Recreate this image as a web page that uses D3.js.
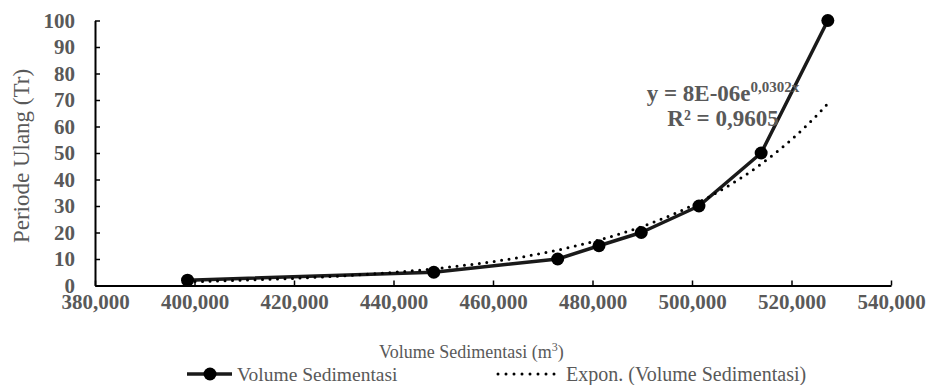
<!DOCTYPE html>
<html>
<head>
<meta charset="utf-8">
<script src="https://cdn.jsdelivr.net/npm/d3@7"></script>
<style>
  html, body { margin: 0; padding: 0; background: #fff; }
  svg { display: block; font-family: "Liberation Serif", "Times New Roman", serif; }
</style>
</head>
<body>
<svg id="chart" width="928" height="385"></svg>
<script>
// Sediment volume (m3) against return period (years)
const volumes = [398600, 448100, 473000, 481300, 489800, 501400, 513900, 527300];
const periods = [2, 5, 10, 15, 20, 30, 50, 100];
const xTicks = [380000, 400000, 420000, 440000, 460000, 480000, 500000, 520000, 540000];
const yTicks = [0, 10, 20, 30, 40, 50, 60, 70, 80, 90, 100];
const seriesName = "Volume Sedimentasi";
const trendName = "Expon. (Volume Sedimentasi)";
const equationText = ["y = 8E-06e", "0,0302x"];
const r2Text = "R² = 0,9605";

const textColor = "#595959";
const ink = "#000";

const svg = d3.select("#chart");
const plot = { left: 95, right: 891, top: 20.5, bottom: 285.5 };

const x = d3.scaleLinear().domain([380000, 540000]).range([plot.left, plot.right]);
const y = d3.scaleLinear().domain([0, 100]).range([plot.bottom, plot.top]);

// Axes with inward ticks
const gx = svg.append("g")
  .attr("transform", `translate(0,${plot.bottom})`)
  .call(d3.axisBottom(x).tickValues(xTicks).tickFormat(d3.format(",")).tickSize(-5).tickSizeOuter(0).tickPadding(9));
const gy = svg.append("g")
  .attr("transform", `translate(${plot.left},0)`)
  .call(d3.axisLeft(y).tickValues(yTicks).tickSize(-5).tickSizeOuter(0).tickPadding(20));

[gx, gy].forEach(g => {
  g.select(".domain").attr("stroke", ink).attr("stroke-width", 2);
  g.selectAll(".tick line").attr("stroke", ink).attr("stroke-width", 1.5);
  g.selectAll(".tick text")
    .attr("fill", textColor)
    .style("font-family", '"Liberation Serif", serif')
    .style("font-size", "21px")
    .style("font-weight", "bold");
});

// Exponential least-squares fit on ln(y)
const lnY = periods.map(Math.log);
const mx = d3.mean(volumes), my = d3.mean(lnY);
const sxy = d3.sum(volumes, (v, i) => (v - mx) * (lnY[i] - my));
const sxx = d3.sum(volumes, v => (v - mx) * (v - mx));
const b = sxy / sxx;
const lnA = my - b * mx;
const [xMin, xMax] = d3.extent(volumes);
const trendPts = d3.range(0, 101).map(k => {
  const v = xMin + (xMax - xMin) * k / 100;
  return [v, Math.exp(lnA + b * v)];
});

const line = d3.line().x(d => x(d[0])).y(d => y(d[1]));

// Data series line
svg.append("path")
  .datum(volumes.map((v, i) => [v, periods[i]]))
  .attr("d", line)
  .attr("fill", "none")
  .attr("stroke", "#1a1a1a")
  .attr("stroke-width", 3.5)
  .attr("stroke-linejoin", "round");

// Trendline (round dots)
svg.append("path")
  .datum(trendPts)
  .attr("d", line)
  .attr("fill", "none")
  .attr("stroke", ink)
  .attr("stroke-width", 3)
  .attr("stroke-linecap", "round")
  .attr("stroke-dasharray", "0 7.5");

// Markers
svg.append("g").selectAll("circle")
  .data(volumes)
  .join("circle")
  .attr("cx", d => x(d))
  .attr("cy", (d, i) => y(periods[i]))
  .attr("r", 6.5)
  .attr("fill", ink);

// Trendline equation
const eq = svg.append("text")
  .attr("x", 723).attr("y", 101)
  .attr("text-anchor", "middle")
  .attr("fill", textColor)
  .style("font-size", "23px")
  .style("font-weight", "bold");
eq.append("tspan").text(equationText[0]);
eq.append("tspan").attr("dy", -9).style("font-size", "15px").text(equationText[1]);
svg.append("text")
  .attr("x", 723).attr("y", 126)
  .attr("text-anchor", "middle")
  .attr("fill", textColor)
  .style("font-size", "23px")
  .style("font-weight", "bold")
  .text(r2Text);

// Axis titles
svg.append("text")
  .attr("transform", "translate(29,156) rotate(-90)")
  .attr("text-anchor", "middle")
  .attr("fill", textColor)
  .style("font-size", "23px")
  .text("Periode Ulang (Tr)");
const xt = svg.append("text")
  .attr("x", 379).attr("y", 358)
  .attr("fill", textColor)
  .style("font-size", "18px");
xt.append("tspan").text("Volume Sedimentasi (m");
xt.append("tspan").attr("dy", -7).style("font-size", "12px").text("3");
xt.append("tspan").attr("dy", 7).text(")");

// Legend
const legY = 374;
const leg = svg.append("g");
leg.append("line")
  .attr("x1", 187).attr("x2", 232).attr("y1", legY).attr("y2", legY)
  .attr("stroke", "#1a1a1a").attr("stroke-width", 3.5);
leg.append("circle").attr("cx", 210).attr("cy", legY).attr("r", 6.5).attr("fill", ink);
leg.append("text")
  .attr("x", 237).attr("y", legY + 7)
  .attr("fill", textColor)
  .style("font-size", "19.5px")
  .text(seriesName);
leg.append("line")
  .attr("x1", 498).attr("x2", 562).attr("y1", legY).attr("y2", legY)
  .attr("stroke", ink).attr("stroke-width", 3)
  .attr("stroke-linecap", "round").attr("stroke-dasharray", "0 8");
leg.append("text")
  .attr("x", 566).attr("y", legY + 7)
  .attr("fill", textColor)
  .style("font-size", "20px")
  .text(trendName);
</script>
</body>
</html>
